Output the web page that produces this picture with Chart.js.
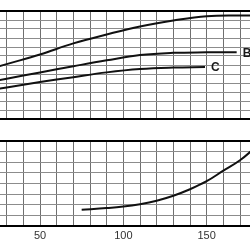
<!DOCTYPE html>
<html>
<head>
<meta charset="utf-8">
<script src="https://cdn.jsdelivr.net/npm/chart.js@4/dist/chart.umd.min.js"></script>
<style>
    html, body { margin: 0; padding: 0; background: #fff; }
    #wrap { position: relative; width: 250px; height: 250px; overflow: hidden; }
    .box { position: absolute; left: 0; width: 250px; }
</style>
</head>
<body>
<div id="wrap">
    <div class="box" style="top:0; height:125px;"><canvas id="topChart"></canvas></div>
    <div class="box" style="top:130px; height:120px;"><canvas id="bottomChart"></canvas></div>
</div>
<script>
// x range shown (the picture is cropped on both sides)
const xMin = 26;
const xMax = 176;
const xTickLabels = [50, 100, 150];

// upper panel curves
const curveAx = [20, 30, 50, 70, 90, 110, 130, 150, 170, 185];
const curveAy = [5.55, 6.1, 7.17, 8.4, 9.39, 10.28, 10.94, 11.42, 11.5, 11.5];
const curveBx = [20, 30, 50, 70, 90, 110, 130, 150, 168];
const curveBy = [4.14, 4.48, 5.17, 5.86, 6.52, 7.1, 7.35, 7.41, 7.42];
const curveCx = [20, 30, 50, 70, 90, 110, 130, 149];
const curveCy = [3.2, 3.5, 4.1, 4.65, 5.18, 5.55, 5.72, 5.78];
const topLabels = ['', 'B', 'C'];

// lower panel curve
const curveDx = [75, 90, 100, 110, 120, 130, 140, 150, 160, 170, 180];
const curveDy = [1.52, 1.67, 1.81, 2.04, 2.37, 2.84, 3.45, 4.21, 5.2, 6.18, 7.5];

const topYMax = 12;
const bottomYMax = 8;

function toPoints(xs, ys) {
    return xs.map((x, i) => ({ x: x, y: ys[i] }));
}

function lineSet(xs, ys, label) {
    return {
        label: label,
        data: toPoints(xs, ys),
        borderColor: '#111111',
        borderWidth: 2,
        pointRadius: 0,
        tension: 0.4,
        fill: false
    };
}

// writes B / C just after the end of their lines
const endLabels = {
    id: 'endLabels',
    afterDatasetsDraw(chart) {
        const ctx = chart.ctx;
        const xs = chart.scales.x;
        const ys = chart.scales.y;
        ctx.save();
        ctx.font = 'bold 12px "Liberation Sans", Arial, sans-serif';
        ctx.fillStyle = '#1a1a1a';
        ctx.textBaseline = 'middle';
        ctx.textAlign = 'left';
        chart.data.datasets.forEach(ds => {
            if (!ds.label) return;
            const last = ds.data[ds.data.length - 1];
            ctx.fillText(ds.label, xs.getPixelForValue(last.x) + 6, ys.getPixelForValue(last.y) + 1);
        });
        ctx.restore();
    }
};

function xScale(showLabels) {
    return {
        type: 'linear',
        min: xMin,
        max: xMax,
        afterBuildTicks: axis => {
            const t = [];
            for (let v = Math.ceil(xMin / 10) * 10; v <= xMax; v += 10) t.push({ value: v });
            axis.ticks = t;
        },
        border: { display: false },
        grid: { color: '#6f6f6f', lineWidth: 1, drawTicks: false },
        ticks: {
            display: showLabels,
            autoSkip: false,
            maxRotation: 0,
            padding: 4,
            color: '#333333',
            font: { size: 11, family: '"Liberation Sans", Arial, sans-serif' },
            callback: v => xTickLabels.includes(v) ? String(v) : ''
        }
    };
}

function yScale(max) {
    return {
        type: 'linear',
        min: 0,
        max: max,
        border: { display: false },
        grid: {
            drawTicks: false,
            color: c => (c.tick.value === 0 || c.tick.value === max) ? '#000000' : '#8c8c8c',
            lineWidth: c => (c.tick.value === 0 || c.tick.value === max) ? 2 : 1
        },
        ticks: { display: false, stepSize: 1 }
    };
}

function baseOptions(padding, showLabels, yMax) {
    return {
        responsive: true,
        maintainAspectRatio: false,
        animation: false,
        layout: { padding: padding },
        plugins: { legend: { display: false }, tooltip: { enabled: false } },
        scales: { x: xScale(showLabels), y: yScale(yMax) }
    };
}

document.addEventListener("DOMContentLoaded", () => {
    new Chart(document.getElementById('topChart').getContext('2d'), {
        type: 'line',
        data: {
            datasets: [
                lineSet(curveAx, curveAy, topLabels[0]),
                lineSet(curveBx, curveBy, topLabels[1]),
                lineSet(curveCx, curveCy, topLabels[2])
            ]
        },
        options: baseOptions({ top: 11, bottom: 6, left: 0, right: 0 }, false, topYMax),
        plugins: [endLabels]
    });

    new Chart(document.getElementById('bottomChart').getContext('2d'), {
        type: 'line',
        data: { datasets: [lineSet(curveDx, curveDy, '')] },
        options: baseOptions({ top: 11, bottom: 3, left: 0, right: 0 }, true, bottomYMax)
    });
});
</script>
</body>
</html>
